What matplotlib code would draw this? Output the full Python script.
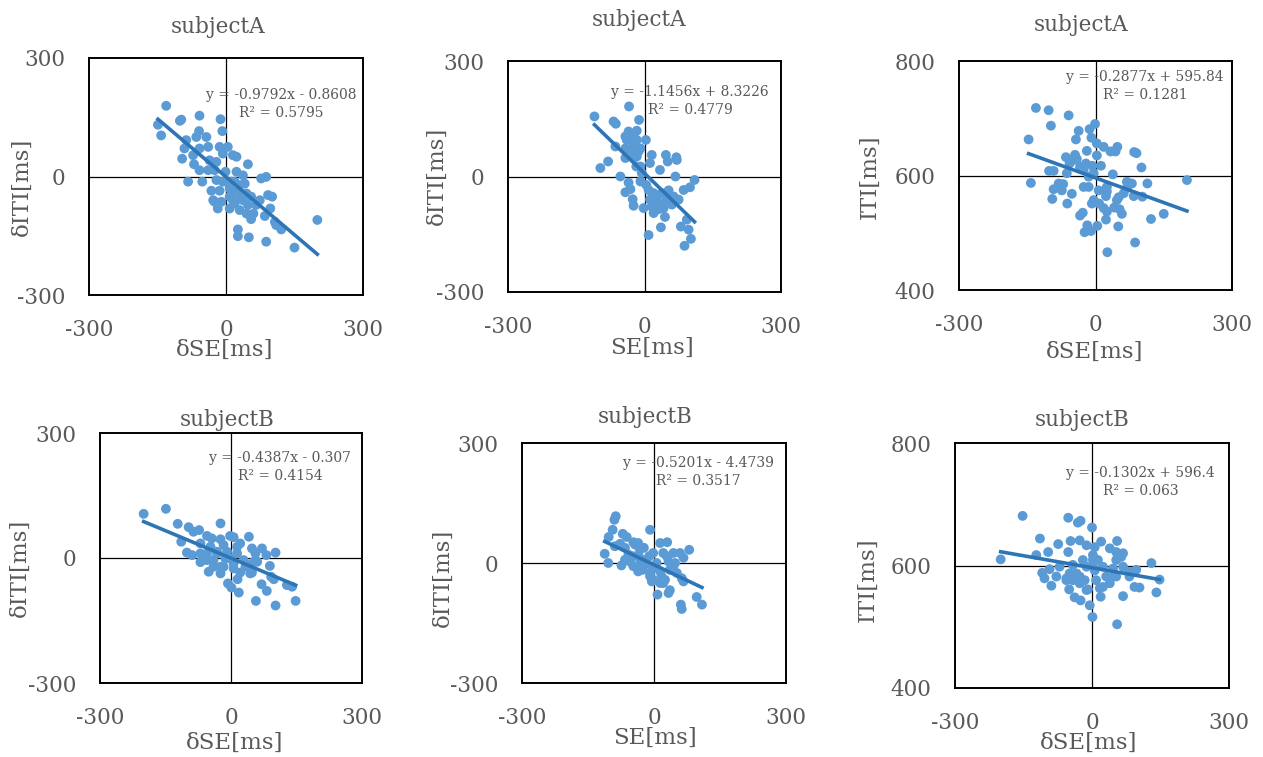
import matplotlib.pyplot as plt
import numpy as np

plt.rcParams['font.family'] = ['DejaVu Serif']
plt.rcParams['axes.unicode_minus'] = False

W, H = 1263, 757
TXT = '#595959'
DOT = '#5B9BD5'
LINE = '#2E75B6'

# subjectA: dSE vs dITI
a1_x = [-131, -149, -142, -101, -98, -58, -12, -8, -59, -65, -43, -87, -39, -91, -58, -72, -96,
        -14, 4, -7, 15, 23, -21, 48, -70, -58, -39, -25, -1, 23, 37, -83, -52, -7, 12, 41, 77, 88,
        -32, -14, 8, 26, 45, 55, 92, 101, -25, -10, 15, 37, 74, -18, 8, 30, 48, 66, 97, 45, 55, 85,
        107, 121, 110, 26, 26, 50, 88, 150, 200, 19, 30, 8, 19, 60,
        -28, 15, 34, 8, -21, -36]
a1_y = [179, 131, 104, 141, 144, 154, 145, 115, 115, 100, 100, 92, 75, 71, 71, 54, 45,
        75, 75, 58, 54, 50, 37, 31, 31, 16, 16, 16, 12, 12, 3, -13, -13, -13, -13, -18, -5, -1,
        -36, -36, -30, -35, -43, -51, -47, -51, -64, -64, -60, -60, -60, -81, -81, -85, -72, -72, -81, -94, -108, -100,
        -115, -134, -123, -134, -151, -154, -165, -180, -110, -13, -22, -51, -68, -94,
        -60, -43, -51, -22, -9, 41]

# subjectA: SE vs dITI
a2_x = [-110, -97, -80, -68, -63, -64, -53, -34, -12, -35, -42, -24, -17, 3, -42, -28, -9, -42, -24,
        16, 47, 70, 51, 12, 34, -18, -6, 68, 110, 100, -35, -31, -42, -26, -24, -9, 9, 53, 86, -2,
        16, 27, 34, 49, 60, 75, 20, 45, 36, 9, 80, 93, 97, 102, 88, 31, 64, 12, 23, -17, 71,
        -24, -13, -31, -9, 20, 38, 20, 42, 64, 53, 4, -39, -17]
a2_y = [156, 22, 39, 143, 137, 78, 0, 182, 147, 117, 104, 104, 95, 95, 73, 73, 73, 48, 48,
        56, 56, 50, 39, 35, 17, 26, 9, 0, -9, -28, -16, -33, -41, -59, -76, -13, -35, -36, -35, -82,
        -78, -52, -69, -60, -73, -60, -95, -105, -132, -152, -130, -112, -138, -162, -180, -85, -52, -60, -86, 52, 43,
        82, 65, 60, 26, -43, -43, -65, -82, -65, -52, -22, 95, 119]

# subjectA: dSE vs ITI
a3_x = [-131, -103, -98, -59, -147, -142, -37, -43, -13, -1, -9, 3, 18, 48, 33, 44, 85, 90, -19, 3,
        -65, -45, -41, -57, -21, -7, 12, 101, -102, -92, -63, -26, -4, 38, -81, -71, -92, -74, -52,
        -15, 7, 25, 69, 80, 114, 201, 84, 103, 51, 23, -95, -62, -8, 8, 18, 41, 58, 53, -28, -34,
        25, 23, -18, 4, -24, -10, 50, 122, 150, 87, 26, -26, 62,
        25, 69, -15, -34, -48, 47, -4]
a3_y = [718, 714, 687, 705, 663, 587, 678, 663, 681, 690, 666, 656, 650, 650, 642, 642, 641, 639, 643, 635,
        632, 636, 629, 621, 621, 617, 617, 614, 608, 608, 604, 610, 604, 602, 586, 585, 576, 574, 568,
        580, 574, 580, 589, 586, 586, 592, 564, 563, 562, 564, 559, 551, 551, 551, 543, 544, 533, 541, 535, 530,
        537, 523, 513, 512, 501, 503, 511, 524, 533, 483, 466, 580, 569,
        572, 578, 598, 615, 627, 557, 557]

# subjectB: dSE vs dITI
b1_x = [-200, -149, -122, -97, -86, -73, -114, -24, -55, -44, -24, -2, 6, 41, -70, -47, -17, 21, 48,
        71, -101, -89, -55, -32, 14, 56, 81, 102, -70, -40, -2, 29, 60, 89, -51, -24, 6, 21, 48, 92,
        98, 15, -7, 1, 18, 70, 82, 128, 140, 57, 102, 148, -40, -17, 37, -13,
        -32, -55, 6, 33, 52, 14, -9, -70, -24, 44]
b1_y = [106, 118, 82, 74, 63, 67, 39, 83, 53, 47, 45, 53, 50, 51, 35, 27, 31, 35, 23,
        23, 13, 7, 11, 15, 11, 11, 7, 13, -10, -5, -1, -5, -9, -19, -33, -37, -25, -35, -35, -45,
        -51, -51, -61, -71, -83, -63, -79, -65, -69, -103, -114, -103, -21, -21, -17, -1,
        11, -5, -13, -21, -9, 27, 15, 11, -21, -37]

# subjectB: SE vs dITI
b2_x = [-87, -90, -94, -103, -112, -104, -71, -62, -77, -47, -36, -66, -32, -9, 14, 30, 80, 59, 21,
        -11, -2, -74, -55, -47, -36, -21, 6, 33, 48, 67, -9, 14, 36, 63, 67, -5, 14, 36, 8, 97,
        109, 61, 63, 25, -32, -58,
        -43, -23, -17, -47, -2, 17, 44, 29, 44, 52, -9, -39, -66, -89, 21, 33, -2, -26]
b2_y = [117, 108, 83, 65, 23, 0, 73, 65, 48, 52, 50, 38, 33, 83, 50, 52, 33, 25, 25,
        17, 25, -6, 4, -8, -21, -4, 0, 4, 0, 13, -25, -21, -17, -38, -46, -46, -50, -68, -79, -85,
        -104, -104, -115, -42, 12, 21,
        46, 38, 8, 17, -13, -33, -8, 17, 25, -25, -33, -8, 8, 42, -50, -75, -42, -17]

# subjectB: dSE vs ITI
b3_x = [-200, -152, -114, -122, -109, -104, -89, -96, -74, -52, -31, -25, 0, -47, -27, -52, -12, 6,
        20, 55, 39, 53, 64, 2, -20, -42, -71, -93, -78, -56, -34, -16, 6, 24, 46, 68, 97, 130, 148,
        82, 93, 104, 141, 68, 39, 17, 19, -9, -27, -50, -38, -25, -5, 1, 55, -49, 9, 53,
        2, -12, 13, 31, 53, 68, -27, -42, 2, 24, -12, -34, -56, 46, 82]
b3_y = [610, 681, 644, 617, 588, 579, 567, 622, 635, 678, 670, 673, 662, 640, 641, 622, 633, 630,
        639, 640, 628, 622, 614, 617, 609, 601, 598, 594, 582, 579, 582, 576, 592, 598, 595, 598, 593, 604, 577,
        582, 565, 564, 556, 550, 571, 563, 549, 561, 571, 561, 548, 543, 535, 516, 504, 587, 576, 582,
        609, 598, 609, 582, 609, 620, 582, 576, 598, 565, 560, 587, 576, 582, 590]

xs = [a1_x, a2_x, a3_x, b1_x, b2_x, b3_x]
ys = [a1_y, a2_y, a3_y, b1_y, b2_y, b3_y]
slopes = [-0.9792, -1.1456, -0.2877, -0.4387, -0.5201, -0.1302]
intercepts = [-0.8608, 8.3226, 595.84, -0.307, -4.4739, 596.4]
eq_text = ['y = -0.9792x - 0.8608\nR² = 0.5795',
           'y = -1.1456x + 8.3226\nR² = 0.4779',
           'y = -0.2877x + 595.84\nR² = 0.1281',
           'y = -0.4387x - 0.307\nR² = 0.4154',
           'y = -0.5201x - 4.4739\nR² = 0.3517',
           'y = -0.1302x + 596.4\nR² = 0.063']
titles = ['subjectA'] * 3 + ['subjectB'] * 3
xlabels = ['δSE[ms]', 'SE[ms]', 'δSE[ms]'] * 2
ylabels = ['δITI[ms]', 'δITI[ms]', 'ITI[ms]'] * 2
yranges = [(-300, 300), (-300, 300), (400, 800)] * 2

# layout in pixels: box (x0, y0, x1, y1), title pos, ylabel pos, xlabel pos, equation pos (axes frac)
boxes = [(89, 58, 363, 295), (508, 61, 781, 292), (959, 61, 1232, 290),
         (100, 433, 362, 683), (522, 443, 786, 683), (955, 443, 1229, 688)]
title_pos = [(218, 27), (639, 20), (1081, 25), (227, 420), (645, 417), (1082, 420)]
ylab_pos = [(22, 187), (437, 176), (870, 177), (20, 568), (443, 578), (868, 580)]
xlab_pos = [(225, 350), (652, 348), (1095, 352), (235, 743), (655, 738), (1089, 743)]
eq_pos = [(0.70, 0.805), (0.667, 0.826), (0.682, 0.892), (0.688, 0.865), (0.668, 0.88), (0.677, 0.842)]

fig = plt.figure(figsize=(W / 100, H / 100), dpi=100)

for i in range(6):
    x0, y0, x1, y1 = boxes[i]
    ax = fig.add_axes([x0 / W, 1 - y1 / H, (x1 - x0) / W, (y1 - y0) / H])
    lo, hi = yranges[i]
    mid = (lo + hi) / 2
    ax.set_xlim(-300, 300)
    ax.set_ylim(lo, hi)
    ax.set_xticks([-300, 0, 300])
    ax.set_yticks([lo, mid, hi])
    ax.tick_params(length=0, labelsize=15.5, labelcolor=TXT)
    ax.tick_params(axis='y', pad=17)
    ax.tick_params(axis='x', pad=17)
    for s in ax.spines.values():
        s.set_linewidth(1.4)
        s.set_color('black')
    ax.axhline(mid, color='black', lw=0.9, zorder=1)
    ax.axvline(0, color='black', lw=0.9, zorder=1)

    ax.scatter(xs[i], ys[i], s=50, color=DOT, edgecolors='none', zorder=2)
    xx = np.array([min(xs[i]), max(xs[i])])
    ax.plot(xx, slopes[i] * xx + intercepts[i], color=LINE, lw=2.6, zorder=3)

    ax.text(eq_pos[i][0], eq_pos[i][1], eq_text[i], transform=ax.transAxes,
            ha='center', va='center', multialignment='center', fontsize=10,
            color=TXT, linespacing=1.35, zorder=4)

    fig.text(title_pos[i][0] / W, 1 - title_pos[i][1] / H, titles[i],
             ha='center', va='center', fontsize=15.5, color=TXT)
    fig.text(ylab_pos[i][0] / W, 1 - ylab_pos[i][1] / H, ylabels[i],
             ha='center', va='center', rotation=90, fontsize=16.5, color=TXT)
    fig.text(xlab_pos[i][0] / W, 1 - xlab_pos[i][1] / H, xlabels[i],
             ha='center', va='center', fontsize=16.5, color=TXT)

fig.savefig('out.png', dpi=100)
